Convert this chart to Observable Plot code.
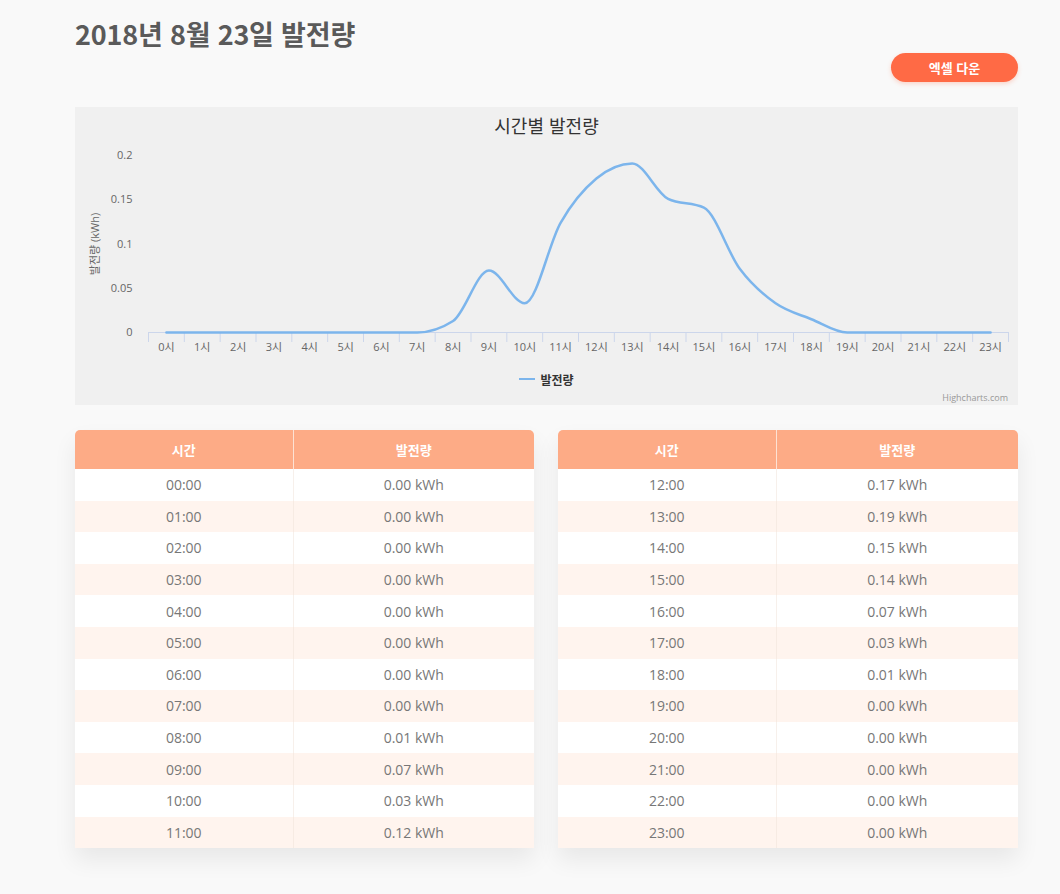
<!DOCTYPE html>
<html lang="ko">
<head>
<meta charset="utf-8">
<script src="https://cdn.jsdelivr.net/npm/d3@7"></script>
<script src="https://cdn.jsdelivr.net/npm/@observablehq/plot@0.6"></script>
<style>
  html, body { margin: 0; padding: 0; background: #f9f9f9; width: 1060px; height: 894px; overflow: hidden;
    font-family: "Open Sans", "Noto Sans CJK KR", sans-serif; }
  #title { position: absolute; left: 75px; top: 14px; font-family: "Noto Sans CJK KR", sans-serif; font-weight: 700;
    font-size: 27px; color: #5a5a5a; letter-spacing: -0.2px; }
  #btn { position: absolute; left: 891px; top: 53px; width: 127px; height: 29px; border-radius: 15px; background: #ff6a45;
    color: #fff; font-family: "Noto Sans CJK KR", sans-serif; font-weight: 700; font-size: 13px; text-align: center; line-height: 29px;
    box-shadow: 0 2px 4px rgba(255,106,69,0.25); }
  #panel { position: absolute; left: 75px; top: 107px; width: 943px; height: 298px; background: #f0f0f0; }
  #ctitle { position: absolute; left: 0; top: 6px; width: 100%; text-align: center; font-family: "Noto Sans CJK KR", sans-serif;
    font-size: 18px; color: #333; line-height: 24px; }
  #chart { position: absolute; left: 0; top: 33px; }
  #legend { position: absolute; left: 0; top: 263px; width: 100%; display: flex; justify-content: center; align-items: center;
    font-family: "Noto Sans CJK KR", sans-serif; font-weight: 700; font-size: 12px; color: #333; height: 18px; }
  #legend .sym { width: 16px; height: 2.5px; background: #7cb5ec; margin-right: 5px; }
  #credit { position: absolute; right: 10px; top: 284px; font-size: 9px; color: #999; }
  .tbl { position: absolute; top: 430px; border-collapse: collapse; table-layout: fixed;
    box-shadow: 0 12px 22px rgba(0,0,0,0.07); font-size: 14px; color: #777; }
  .tbl th { background: #fdab86; color: #fff; height: 39px; font-family: "Noto Sans CJK KR", sans-serif; font-weight: 700;
    font-size: 13px; padding: 0; }
  .tbl th:first-child { border-top-left-radius: 5px; border-right: 1px solid #fde2d4; }
  .tbl th:last-child { border-top-right-radius: 5px; }
  .tbl td { height: 31.6px; padding: 0; text-align: center; }
  .tbl td:first-child { border-right: 1px solid rgba(240,225,215,0.5); }
  .tbl tr:nth-child(even) td { background: #ffffff; }
  .tbl tr:nth-child(odd) td { background: #fff4ee; }
</style>
</head>
<body>
<div id="title">2018년 8월 23일 발전량</div>
<div id="btn">엑셀 다운</div>
<div id="panel">
  <div id="ctitle">시간별 발전량</div>
  <div id="chart"></div>
  <div id="legend"><span class="sym"></span><span>발전량</span></div>
  <div id="credit">Highcharts.com</div>
</div>
<table class="tbl" id="t1" style="left:75px;width:459px;"></table>
<table class="tbl" id="t2" style="left:558px;width:460px;"></table>
<script>
const hours = [0,1,2,3,4,5,6,7,8,9,10,11,12,13,14,15,16,17,18,19,20,21,22,23];
const hourLabels = ["0시","1시","2시","3시","4시","5시","6시","7시","8시","9시","10시","11시","12시","13시","14시","15시","16시","17시","18시","19시","20시","21시","22시","23시"];
const values = [0,0,0,0,0,0,0,0,0.013,0.070,0.033,0.124,0.174,0.191,0.151,0.141,0.072,0.033,0.015,0,0,0,0,0];
const yTicks = [0, 0.05, 0.1, 0.15, 0.2];
const yTitle = "발전량 (kWh)";
const timeLabels = ["00:00","01:00","02:00","03:00","04:00","05:00","06:00","07:00","08:00","09:00","10:00","11:00",
  "12:00","13:00","14:00","15:00","16:00","17:00","18:00","19:00","20:00","21:00","22:00","23:00"];
const tableValues = ["0.00","0.00","0.00","0.00","0.00","0.00","0.00","0.00","0.01","0.07","0.03","0.12",
  "0.17","0.19","0.15","0.14","0.07","0.03","0.01","0.00","0.00","0.00","0.00","0.00"];
const headers = ["시간", "발전량"];

const data = hours.map((h, i) => ({hour: h, label: hourLabels[i], value: values[i]}));
const bounds = hours.map(h => h - 0.5).concat([hours[hours.length - 1] + 0.5]);

const chart = Plot.plot({
  width: 943, height: 220,
  marginLeft: 73, marginRight: 10, marginTop: 15, marginBottom: 28,
  style: {background: "transparent", fontFamily: "'Open Sans', 'Noto Sans CJK KR', sans-serif", fontSize: "11px", color: "#666", overflow: "visible"},
  x: {type: "linear", domain: [bounds[0], bounds[bounds.length - 1]], axis: null},
  y: {domain: [0, 0.2], ticks: yTicks, tickFormat: d => String(d), tickSize: 0, tickPadding: 16, label: null},
  marks: [
    Plot.ruleY([0], {stroke: "#ccd6eb"}),
    Plot.ruleX(bounds, {x: d => d, y1: 0, y2: 0, insetBottom: -10, stroke: "#ccd6eb"}),
    Plot.text(data, {x: "hour", y: 0, text: "label", dy: 15, fill: "#666"}),
    Plot.text([yTitle], {frameAnchor: "left", textAnchor: "middle", rotate: -90, dx: -53, text: d => d, fill: "#666"}),
    Plot.line(data, {x: "hour", y: "value", curve: "monotone-x", stroke: "#7cb5ec", strokeWidth: 2.5})
  ]
});
document.getElementById("chart").appendChild(chart);

function fillTable(id, from, to) {
  const t = document.getElementById(id);
  let html = "<colgroup><col style='width:218px'><col></colgroup><tr><th>" + headers[0] + "</th><th>" + headers[1] + "</th></tr>";
  for (let i = from; i < to; i++) {
    html += "<tr><td>" + timeLabels[i] + "</td><td>" + tableValues[i] + " kWh</td></tr>";
  }
  t.innerHTML = html;
}
fillTable("t1", 0, 12);
fillTable("t2", 12, 24);
</script>
</body>
</html>
